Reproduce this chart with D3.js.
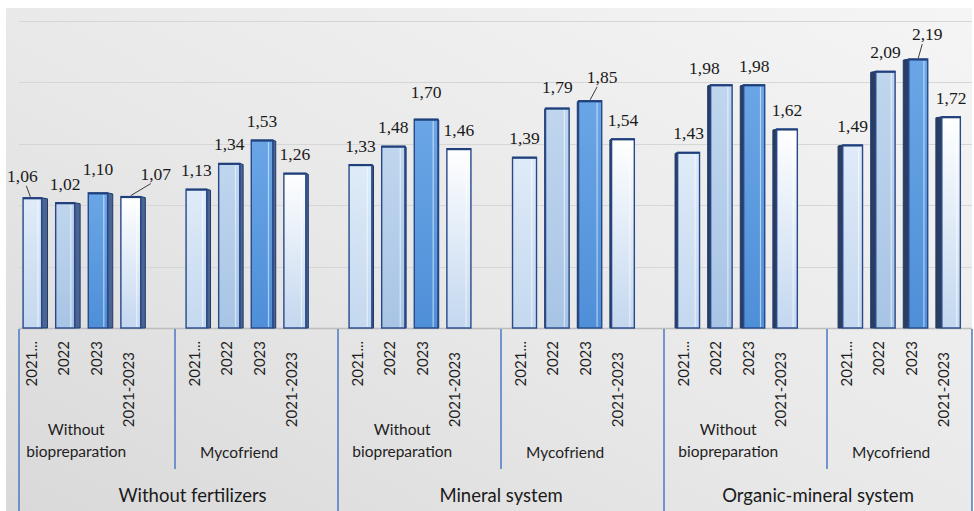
<!DOCTYPE html>
<html>
<head>
<meta charset="utf-8">
<script src="https://cdn.jsdelivr.net/npm/d3@7"></script>
<style>
  html, body { margin: 0; padding: 0; background: #ffffff; }
  svg { display: block; }
</style>
</head>
<body>
<script>
// ---------- DATA ----------
const systems = ["Without fertilizers", "Mineral system", "Organic-mineral system"];
const treatments = ["Without biopreparation", "Mycofriend"];
const treatmentLines = [["Without", "biopreparation"], ["Mycofriend"]];
const periods = ["2021...", "2022", "2023", "2021-2023"];
const v2021 = [1.06, 1.13, 1.33, 1.39, 1.43, 1.49];
const v2022 = [1.02, 1.34, 1.48, 1.79, 1.98, 2.09];
const v2023 = [1.10, 1.53, 1.70, 1.85, 1.98, 2.19];
const v2123 = [1.07, 1.26, 1.46, 1.54, 1.62, 1.72];
const gridValues = [0.5, 1.0, 1.5, 2.0, 2.5];

// ---------- LAYOUT ----------
const W = 974, H = 511;
const series = [v2021, v2022, v2023, v2123];
const groupIds = systems.flatMap(s => treatments.map(t => s + "|" + t));
const fmt = v => d3.format(".2f")(v).replace(".", ",");

// label nudges (layout only): key = group*4 + period
const labelNudge = {
  0: {dx: -10, dy: -3, leader: true},
  2: {dx: 0, dy: -5},
  3: {dx: 25, dy: -4, leader: true},
  10: {dx: 0, dy: -8},
  13: {dx: 0, dy: -2},
  14: {dx: 12, dy: -5, leader: true},
  17: {dx: -17, dy: 2},
  22: {dx: 9, dy: -6, leader: true}
};

const svg = d3.select("body").append("svg").attr("width", W).attr("height", H);
const defs = svg.append("defs");

const bgGrad = defs.append("linearGradient").attr("id", "bg")
  .attr("x1", "1").attr("y1", "0").attr("x2", "0").attr("y2", "1");
bgGrad.append("stop").attr("offset", "0%").attr("stop-color", "#f5f5f5");
bgGrad.append("stop").attr("offset", "55%").attr("stop-color", "#e8e8e8");
bgGrad.append("stop").attr("offset", "100%").attr("stop-color", "#d9d9d9");

const fills = [
  ["#dfebf8", "#c4d8ef"],
  ["#c0d6ee", "#a8c4e5"],
  ["#6aa6e6", "#4f8fd8"],
  ["#ffffff", "#c3d7ef"]
];
fills.forEach((f, i) => {
  const g = defs.append("linearGradient").attr("id", "bar" + i)
    .attr("x1", "0").attr("y1", "0").attr("x2", "0").attr("y2", "1");
  g.append("stop").attr("offset", "0%").attr("stop-color", f[0]);
  g.append("stop").attr("offset", "100%").attr("stop-color", f[1]);
});

svg.append("rect").attr("x", 6).attr("y", 8).attr("width", 966).attr("height", H - 8)
  .attr("fill", "url(#bg)");

const y = d3.scaleLinear().domain([0, 2.5]).range([328, 21]);
const x0 = d3.scaleBand().domain(groupIds).range([19, 964.4]).paddingInner(0.2).paddingOuter(0);
const x1 = d3.scaleBand().domain(periods).range([0, x0.bandwidth()]).paddingInner(0.25).paddingOuter(0.125);

// gridlines
svg.append("g").selectAll("line").data(gridValues).join("line")
  .attr("x1", 19).attr("x2", 972)
  .attr("y1", d => Math.round(y(d)) + 0.5).attr("y2", d => Math.round(y(d)) + 0.5)
  .attr("stroke", "#d6d6d6").attr("stroke-width", 1);

// axis line
svg.append("line").attr("x1", 19).attr("x2", 972)
  .attr("y1", y(0) + 0.5).attr("y2", y(0) + 0.5)
  .attr("stroke", "#bdbdbd").attr("stroke-width", 1.5);

// bars
const bars = [];
groupIds.forEach((g, gi) => {
  periods.forEach((p, pj) => {
    bars.push({g, gi, p, pj, v: series[pj][gi], idx: gi * 4 + pj});
  });
});

const vx = 490, persp = 0.013;
const barG = svg.append("g");
bars.forEach(d => {
  const bx = x0(d.g) + x1(d.p), bw = x1.bandwidth();
  const cx = bx + bw / 2;
  let dx = (vx - cx) * persp;
  dx = Math.max(-6.5, Math.min(6.5, dx));
  const top = y(d.v), base = y(0);
  let fx, fw, sx0, sx1;
  if (dx >= 0) {
    fw = bw - dx; fx = bx; sx0 = bx + fw; sx1 = bx + bw;
  } else {
    fw = bw + dx; fx = bx - dx; sx0 = fx; sx1 = bx;
  }
  d.fx = fx; d.fw = fw; d.top = top;
  if (Math.abs(dx) > 0.6) {
    barG.append("path")
      .attr("d", `M${sx0},${top}L${sx1},${top + 1}L${sx1},${base}L${sx0},${base}Z`)
      .attr("fill", dx > 0 ? "#4b6491" : "#2b3e62")
      .attr("stroke", "#1f3a6b").attr("stroke-width", 1);
  }
  barG.append("rect")
    .attr("x", fx).attr("y", top).attr("width", fw).attr("height", base - top)
    .attr("fill", `url(#bar${d.pj})`)
    .attr("stroke", "#27498a").attr("stroke-width", 1.4);
  barG.append("line")
    .attr("x1", fx + fw * 0.8).attr("x2", fx + fw * 0.8)
    .attr("y1", top + 2).attr("y2", base - 1)
    .attr("stroke", "#ffffff").attr("stroke-opacity", 0.55).attr("stroke-width", 1.2);
  barG.append("line")
    .attr("x1", fx).attr("x2", fx + fw).attr("y1", top + 0.5).attr("y2", top + 0.5)
    .attr("stroke", "#1f3f7a").attr("stroke-width", 2);
});

// value labels
const lblG = svg.append("g");
bars.forEach(d => {
  const n = labelNudge[d.idx] || {dx: 0, dy: 0};
  const lx = d.fx + d.fw / 2 + n.dx;
  const ly = d.top - 13 + n.dy;
  lblG.append("text")
    .attr("x", lx).attr("y", ly)
    .attr("text-anchor", "middle")
    .attr("font-family", "'Liberation Serif', 'Times New Roman', serif")
    .attr("font-size", 17.5).attr("fill", "#1a1a1a")
    .text(fmt(d.v));
  if (n.leader) {
    const bxC = d.fx + d.fw / 2;
    const sx = n.dx < 0 ? lx + 4 : lx - 5;
    lblG.append("line")
      .attr("x1", sx).attr("y1", ly + 4)
      .attr("x2", bxC + (n.dx < 0 ? -2 : 0)).attr("y2", d.top - 1)
      .attr("stroke", "#3a3a3a").attr("stroke-width", 1);
  }
});

// category tick labels (rotated)
const tickG = svg.append("g");
bars.forEach(d => {
  const cx = x0(d.g) + x1(d.p) + x1.bandwidth() / 2 - 4;
  const yEnd = d.p.length > 7 ? 352 : 341;
  tickG.append("text")
    .attr("transform", `translate(${cx},${yEnd}) rotate(-90)`)
    .attr("dy", "0.35em")
    .attr("text-anchor", "end")
    .attr("font-family", "Lato, 'Open Sans', sans-serif")
    .attr("font-size", 15).attr("fill", "#1e1e1e")
    .text(d.p);
});

// treatment labels
groupIds.forEach((g, gi) => {
  const lines = treatmentLines[gi % 2];
  const cx = x0(g) + x0.bandwidth() / 2 - 8;
  const t = svg.append("text")
    .attr("text-anchor", "middle")
    .attr("font-family", "Lato, 'Open Sans', sans-serif")
    .attr("font-size", 15.5).attr("fill", "#1e1e1e");
  if (lines.length === 2) {
    t.append("tspan").attr("x", cx).attr("y", 435).text(lines[0]);
    t.append("tspan").attr("x", cx).attr("y", 457).text(lines[1]);
  } else {
    t.append("tspan").attr("x", cx).attr("y", 458).text(lines[0]);
  }
});

// separators
const sepColor = "#4a78c4";
const sepXs = groupIds.map((g, gi) => gi === 0 ? 19 : x0(g) - 7);
sepXs.push(972);
sepXs.forEach((sx, i) => {
  const outer = (i % 2 === 0);
  svg.append("line")
    .attr("x1", sx).attr("x2", sx)
    .attr("y1", y(0) + 1).attr("y2", outer ? H : 469)
    .attr("stroke", sepColor).attr("stroke-width", 1.5);
});

// system labels
systems.forEach((s, si) => {
  const left = sepXs[si * 2], right = sepXs[si * 2 + 2];
  svg.append("text")
    .attr("x", (left + right) / 2 + (si === 0 ? 14 : 0)).attr("y", 502)
    .attr("text-anchor", "middle")
    .attr("font-family", "Lato, 'Open Sans', sans-serif")
    .attr("font-size", 18.5).attr("fill", "#1a1a1a")
    .text(s);
});
</script>
</body>
</html>
